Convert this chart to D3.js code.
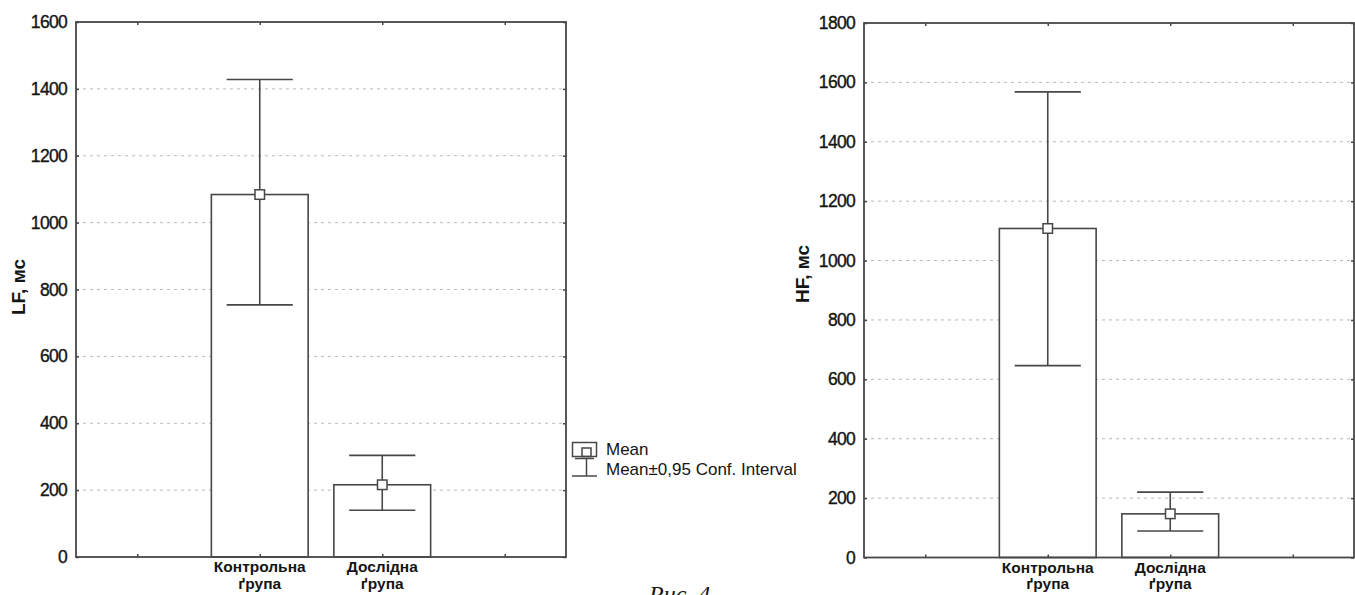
<!DOCTYPE html>
<html>
<head>
<meta charset="utf-8">
<script src="https://cdn.jsdelivr.net/npm/d3@7"></script>
<style>
  html, body { margin: 0; padding: 0; background: #fff; }
  svg { display: block; }
  text { font-family: "Liberation Sans", Arial, sans-serif; fill: #151515; }
</style>
</head>
<body>
<svg id="chart" width="1355" height="595"></svg>
<script>
// Groups compared in both panels
const categories = ["Контрольна ґрупа", "Дослідна ґрупа"];

// LF panel: means and 95% confidence limits, ms
const lfMean  = [1084, 216];
const lfUpper = [1428, 304];
const lfLower = [754, 140];
const lfTicks = [0, 200, 400, 600, 800, 1000, 1200, 1400, 1600];

// HF panel: means and 95% confidence limits, ms
const hfMean  = [1108, 147];
const hfUpper = [1568, 220];
const hfLower = [646, 89];
const hfTicks = [0, 200, 400, 600, 800, 1000, 1200, 1400, 1600, 1800];

const legendItems = ["Mean", "Mean±0,95 Conf. Interval"];

const svg = d3.select("#chart");
const ink = "#474747";

function drawPanel(p) {
  const g = svg.append("g");
  // four slots: empty, the two groups, empty
  const x = d3.scaleLinear().domain([-1.5, categories.length + 0.5]).range([p.x0, p.x1]);
  const y = d3.scaleLinear().domain([0, p.ticks[p.ticks.length - 1]]).range([p.y1, p.y0]);
  const slot = x(1) - x(0);
  const barW = slot * 0.79;
  const capW = slot * 0.54;
  const slotTicks = d3.range(-1, categories.length + 1);

  // dashed horizontal grid
  g.append("g").selectAll("line")
    .data(p.ticks.slice(1, -1))
    .join("line")
    .attr("x1", p.x0).attr("x2", p.x1)
    .attr("y1", d => y(d)).attr("y2", d => y(d))
    .attr("stroke", "#b8b8b8").attr("stroke-width", 1)
    .attr("stroke-dasharray", "3,4");

  const rows = categories.map((c, i) => ({ i, mean: p.mean[i], hi: p.upper[i], lo: p.lower[i] }));

  // mean bars
  g.append("g").selectAll("rect")
    .data(rows)
    .join("rect")
    .attr("x", d => x(d.i) - barW / 2)
    .attr("width", barW)
    .attr("y", d => y(d.mean))
    .attr("height", d => y(0) - y(d.mean))
    .attr("fill", "#fff").attr("stroke", ink).attr("stroke-width", 1.6);

  // confidence interval whiskers
  const ci = g.append("g").attr("stroke", ink).attr("stroke-width", 1.6);
  ci.selectAll(".stem").data(rows).join("line").attr("class", "stem")
    .attr("x1", d => x(d.i)).attr("x2", d => x(d.i))
    .attr("y1", d => y(d.hi)).attr("y2", d => y(d.lo));
  ci.selectAll(".capHi").data(rows).join("line").attr("class", "capHi")
    .attr("x1", d => x(d.i) - capW / 2).attr("x2", d => x(d.i) + capW / 2)
    .attr("y1", d => y(d.hi)).attr("y2", d => y(d.hi));
  ci.selectAll(".capLo").data(rows).join("line").attr("class", "capLo")
    .attr("x1", d => x(d.i) - capW / 2).attr("x2", d => x(d.i) + capW / 2)
    .attr("y1", d => y(d.lo)).attr("y2", d => y(d.lo));

  // mean markers
  const m = 9.5;
  g.append("g").selectAll("rect")
    .data(rows)
    .join("rect")
    .attr("x", d => x(d.i) - m / 2).attr("y", d => y(d.mean) - m / 2)
    .attr("width", m).attr("height", m)
    .attr("fill", "#fff").attr("stroke", ink).attr("stroke-width", 1.5);

  // frame
  g.append("rect")
    .attr("x", p.x0).attr("y", p.y0)
    .attr("width", p.x1 - p.x0).attr("height", p.y1 - p.y0)
    .attr("fill", "none").attr("stroke", ink).attr("stroke-width", 1.8);

  // axes with inward ticks
  const yAx = g.append("g").attr("transform", `translate(${p.x0},0)`)
    .call(d3.axisLeft(y).tickValues(p.ticks).tickFormat(d3.format("d"))
      .tickSizeInner(-3).tickSizeOuter(0).tickPadding(9));
  yAx.select(".domain").remove();
  yAx.selectAll("line").attr("stroke", ink).attr("stroke-width", 1.5);
  yAx.selectAll("text")
    .style("font-size", "17.5px").style("letter-spacing", "-0.7px")
    .style("font-family", "'Liberation Sans', Arial, sans-serif")
    .attr("fill", "#111")
    .attr("stroke", "#111").attr("stroke-width", 0.35);

  const yAxR = g.append("g").attr("transform", `translate(${p.x1},0)`)
    .call(d3.axisRight(y).tickValues(p.ticks).tickSizeInner(-3).tickSizeOuter(0).tickFormat(""));
  yAxR.select(".domain").remove();
  yAxR.selectAll("line").attr("stroke", ink).attr("stroke-width", 1.5);

  const xTop = g.append("g").attr("transform", `translate(0,${p.y0})`)
    .call(d3.axisTop(x).tickValues(slotTicks).tickSizeInner(-3).tickSizeOuter(0).tickFormat(""));
  xTop.select(".domain").remove();
  xTop.selectAll("line").attr("stroke", ink).attr("stroke-width", 1.5);

  const xBot = g.append("g").attr("transform", `translate(0,${p.y1})`)
    .call(d3.axisBottom(x).tickValues(slotTicks).tickSizeInner(-3).tickSizeOuter(0).tickFormat(""));
  xBot.select(".domain").remove();
  xBot.selectAll("line").attr("stroke", ink).attr("stroke-width", 1.5);

  // two-line group names under the bars
  const cat = g.append("g").selectAll("text")
    .data(rows)
    .join("text")
    .attr("text-anchor", "middle")
    .style("font-size", "15.5px").style("font-weight", "bold");
  cat.each(function (d) {
    const words = categories[d.i].split(" ");
    d3.select(this).selectAll("tspan")
      .data(words)
      .join("tspan")
      .attr("x", x(d.i))
      .attr("y", (w, k) => p.y1 + 15 + k * 16.5)
      .text(w => w);
  });

  // y axis title
  g.append("text")
    .attr("transform", `translate(${p.titleX},${p.titleY}) rotate(-90)`)
    .attr("text-anchor", "middle")
    .style("font-size", "19px").style("font-weight", "bold")
    .text(p.title);
}

drawPanel({ x0: 76, x1: 566, y0: 22, y1: 557, ticks: lfTicks,
  mean: lfMean, upper: lfUpper, lower: lfLower,
  title: "LF, мс", titleX: 25, titleY: 287 });

drawPanel({ x0: 864, x1: 1354, y0: 23, y1: 557.5, ticks: hfTicks,
  mean: hfMean, upper: hfUpper, lower: hfLower,
  title: "HF, мс", titleX: 809, titleY: 274 });

// legend
const lg = svg.append("g").attr("stroke", ink).attr("stroke-width", 1.5).attr("fill", "none");
lg.append("rect").attr("x", 572.5).attr("y", 442.5).attr("width", 24).attr("height", 14);
lg.append("rect").attr("x", 582).attr("y", 448).attr("width", 9).attr("height", 8.5);
lg.append("line").attr("x1", 575).attr("x2", 594).attr("y1", 458.5).attr("y2", 458.5);
lg.append("line").attr("x1", 586.5).attr("x2", 586.5).attr("y1", 458.5).attr("y2", 476);
lg.append("line").attr("x1", 572).attr("x2", 597).attr("y1", 476).attr("y2", 476);

svg.append("g").selectAll("text")
  .data(legendItems)
  .join("text")
  .attr("x", 606)
  .attr("y", (d, i) => 455 + i * 20)
  .style("font-size", "17px")
  .text(d => d);

// figure caption
svg.append("text")
  .attr("x", 649).attr("y", 602)
  .style("font-family", "'Liberation Serif', 'Times New Roman', serif")
  .style("font-style", "italic")
  .style("font-size", "24px")
  .attr("fill", "#222")
  .text("Рис. 4");
</script>
</body>
</html>
